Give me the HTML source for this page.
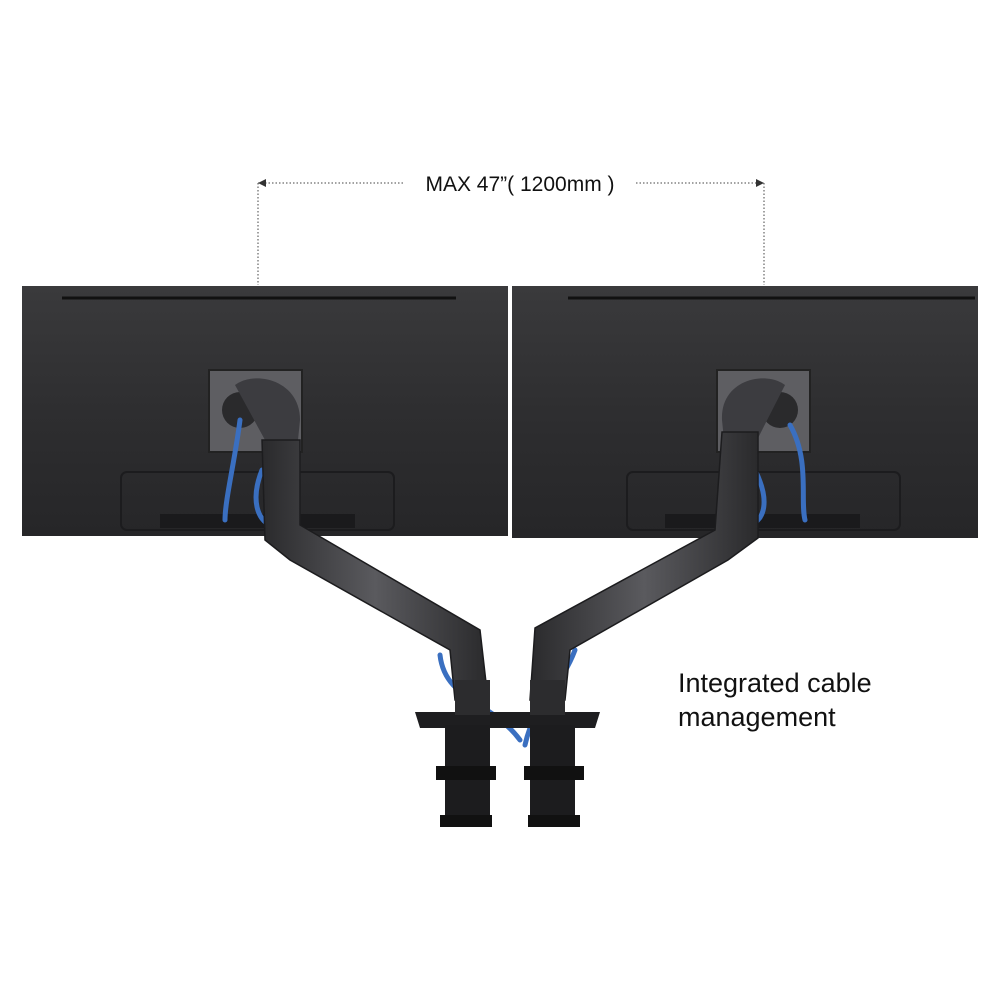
<!DOCTYPE html>
<html><head><meta charset="utf-8"><style>
html,body{margin:0;padding:0;background:#fff;}
svg{display:block}
text{font-family:"Liberation Sans",Arial,sans-serif;}
</style></head><body>
<svg width="1000" height="1000" viewBox="0 0 1000 1000" xmlns="http://www.w3.org/2000/svg">
<defs>
<linearGradient id="mon" x1="0" y1="0" x2="0" y2="1">
<stop offset="0" stop-color="#3a3a3c"/><stop offset="0.5" stop-color="#2e2e30"/><stop offset="1" stop-color="#262628"/>
</linearGradient>
<linearGradient id="arm" x1="0" y1="0" x2="1" y2="0">
<stop offset="0" stop-color="#2a2a2c"/><stop offset="0.5" stop-color="#5a5a5e"/><stop offset="1" stop-color="#2a2a2c"/>
</linearGradient>
</defs>
<!-- dimension -->
<line x1="258" y1="183" x2="405" y2="183" stroke="#444" stroke-width="1" stroke-dasharray="1.5,2"/>
<path d="M258,183 l8,-4 l0,8 z" fill="#333"/>
<line x1="636" y1="183" x2="764" y2="183" stroke="#444" stroke-width="1" stroke-dasharray="1.5,2"/>
<path d="M764,183 l-8,-4 l0,8 z" fill="#333"/>
<line x1="258" y1="183" x2="258" y2="285" stroke="#444" stroke-width="1" stroke-dasharray="1.5,2"/>
<line x1="764" y1="183" x2="764" y2="285" stroke="#444" stroke-width="1" stroke-dasharray="1.5,2"/>
<text x="520" y="191" font-size="21" text-anchor="middle" fill="#111">MAX 47”( 1200mm )</text>
<!-- monitors -->
<rect x="22" y="286" width="486" height="250" fill="url(#mon)"/>
<rect x="512" y="286" width="466" height="252" fill="url(#mon)"/>
<line x1="62" y1="298" x2="456" y2="298" stroke="#111" stroke-width="3"/>
<line x1="568" y1="298" x2="975" y2="298" stroke="#111" stroke-width="3"/>
<rect x="121" y="472" width="273" height="58" rx="6" fill="none" stroke="#1c1c1e" stroke-width="2"/>
<rect x="627" y="472" width="273" height="58" rx="6" fill="none" stroke="#1c1c1e" stroke-width="2"/>
<rect x="160" y="514" width="195" height="14" fill="#1a1a1c"/>
<rect x="665" y="514" width="195" height="14" fill="#1a1a1c"/>
<!-- VESA plates -->
<rect x="209" y="370" width="93" height="82" fill="#5e5e62" stroke="#222" stroke-width="2"/>
<rect x="717" y="370" width="93" height="82" fill="#5e5e62" stroke="#222" stroke-width="2"/>
<circle cx="240" cy="410" r="18" fill="#2a2a2c"/><circle cx="780" cy="410" r="18" fill="#2a2a2c"/>
<!-- cables -->
<g fill="none" stroke="#3a6fc0" stroke-width="5" stroke-linecap="round">
<path d="M240,420 C235,460 225,500 225,520"/>
<path d="M262,470 C250,500 258,520 270,525"/>
<path d="M790,425 C810,460 800,500 805,520"/>
<path d="M755,470 C770,500 765,520 750,525"/>
<path d="M440,655 C445,700 490,700 520,740"/>
<path d="M575,650 C560,690 535,700 525,745"/>
</g>
<!-- arms -->
<path d="M235,385 C255,370 300,380 300,420 L298,440 L265,440 Z" fill="#3c3c40"/>
<path d="M785,385 C765,370 720,380 722,420 L724,440 L757,440 Z" fill="#3c3c40"/>
<path d="M262,440 L300,440 L300,525 L480,630 L488,700 L455,700 L450,650 L290,560 L265,540 Z" fill="url(#arm)" stroke="#1c1c1e" stroke-width="1.5"/>
<path d="M758,432 L722,432 L715,530 L535,628 L530,700 L565,700 L570,650 L728,560 L758,538 Z" fill="url(#arm)" stroke="#1c1c1e" stroke-width="1.5"/>
<!-- base -->
<path d="M415,712 L600,712 L595,728 L420,728 Z" fill="#1e1e20"/>
<rect x="455" y="680" width="35" height="35" fill="#2c2c2e"/>
<rect x="530" y="680" width="35" height="35" fill="#2c2c2e"/>
<rect x="445" y="725" width="45" height="95" fill="#1c1c1e"/>
<rect x="530" y="725" width="45" height="95" fill="#1c1c1e"/>
<rect x="436" y="766" width="60" height="14" fill="#111"/>
<rect x="524" y="766" width="60" height="14" fill="#111"/>
<rect x="440" y="815" width="52" height="12" fill="#111"/>
<rect x="528" y="815" width="52" height="12" fill="#111"/>
<text x="678" y="692" font-size="27" fill="#111">Integrated cable</text>
<text x="678" y="726" font-size="27" fill="#111">management</text>
</svg>
</body></html>
